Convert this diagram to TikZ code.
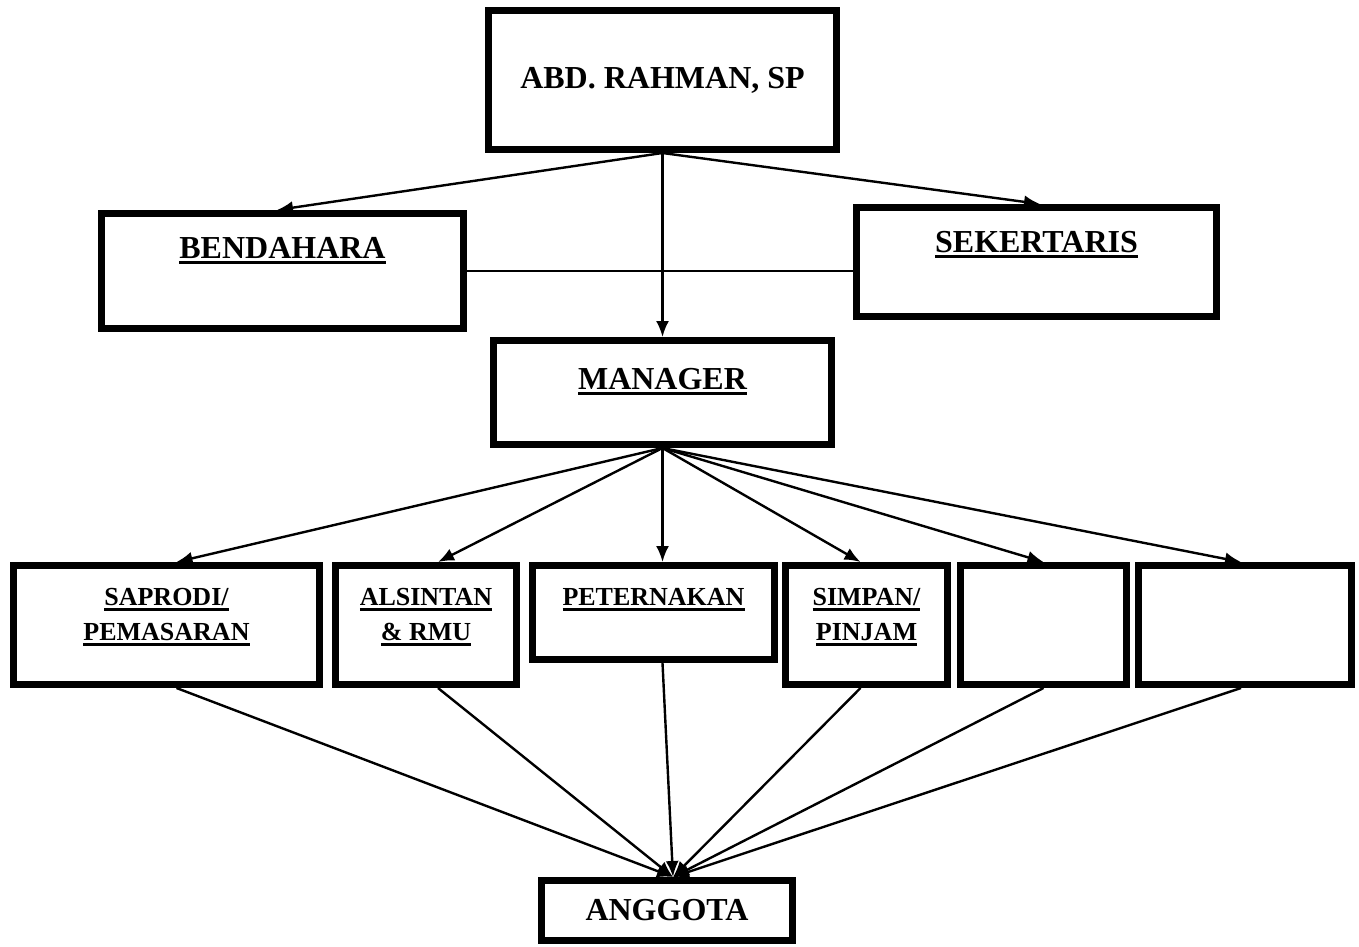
\documentclass[tikz,border=0pt]{standalone}
\usepackage{fontspec}
\setmainfont{Liberation Serif}
\usetikzlibrary{positioning,arrows.meta}
\newcommand{\ulbold}[1]{\leavevmode\setbox0\hbox{#1}\rlap{\rule[-3pt]{\wd0}{1.5pt}}\box0}

\begin{document}
\begin{tikzpicture}[
box/.style={draw, line width=3.5pt, inner sep=0pt, align=center, font=\fontsize{16}{19}\selectfont\bfseries},
unit/.style={box, text height=37.25pt, text depth=22.25pt, font=\fontsize{13}{17.5}\selectfont\bfseries},
arrow/.style={-{Latex[length=8pt,width=6.5pt]}, line width=1.2pt}
]
\useasboundingbox (0,0) rectangle (679.5pt,-473.5pt);
\node[box, minimum width=174pt, minimum height=69.5pt] (top) at (331.25pt,-40pt) {ABD. RAHMAN, SP};
\node[box, minimum width=181pt, text height=22.25pt, text depth=35.25pt, below left=28.5pt and 9pt of top] (bendahara) {\ulbold{BENDAHARA}};
\node[box, minimum width=180pt, text height=22.25pt, text depth=32.25pt, below right=25.5pt and 6.5pt of top] (sekertaris) {\ulbold{SEKERTARIS}};
\node[box, minimum width=169pt, text height=24.25pt, text depth=27.75pt, below=92pt of top] (manager) {\ulbold{MANAGER}};
\node[unit, minimum width=153pt, below left=57pt and 83.5pt of manager] (saprodi) {\ulbold{SAPRODI/}\\\ulbold{PEMASARAN}};
\node[unit, minimum width=90.5pt, right=4.5pt of saprodi] (alsintan) {\ulbold{ALSINTAN}\\\ulbold{\& RMU}};
\node[unit, minimum width=121pt, text height=19.75pt, text depth=27.25pt, right=4.5pt of alsintan.north east, anchor=north west] (peternakan) {\ulbold{PETERNAKAN}};
\node[unit, minimum width=81pt, right=2pt of peternakan.north east, anchor=north west] (simpan) {\ulbold{SIMPAN/}\\\ulbold{PINJAM}};
\node[unit, minimum width=83pt, right=3pt of simpan] (kosong1) {};
\node[unit, minimum width=106.5pt, right=2.5pt of kosong1] (kosong2) {};
\node[box, minimum width=125.5pt, minimum height=30pt, below=107pt of peternakan, xshift=6.75pt] (anggota) {ANGGOTA};
\draw[arrow] (top.south) -- ([xshift=-2.75pt]bendahara.north);
\draw[arrow] (top.south) -- ([xshift=1.75pt]sekertaris.north);
\draw[line width=1pt] (bendahara.east) -- (bendahara.east -| sekertaris.west);
\draw[arrow] (top.south) -- (manager.north);
\draw[arrow] (manager.south) -- ([xshift=5pt]saprodi.north);
\draw[arrow] (manager.south) -- ([xshift=6pt]alsintan.north);
\draw[arrow] (manager.south) -- (manager.south |- peternakan.north);
\draw[arrow] (manager.south) -- ([xshift=-3pt]simpan.north);
\draw[arrow] (manager.south) -- (kosong1.north);
\draw[arrow] (manager.south) -- ([xshift=-2pt]kosong2.north);
\draw[arrow] ([xshift=5pt]saprodi.south) -- ([xshift=3pt]anggota.north);
\draw[arrow] ([xshift=6pt]alsintan.south) -- ([xshift=3pt]anggota.north);
\draw[arrow] (manager.south |- peternakan.south) -- ([xshift=3pt]anggota.north);
\draw[arrow] ([xshift=-3pt]simpan.south) -- ([xshift=3pt]anggota.north);
\draw[arrow] (kosong1.south) -- ([xshift=3pt]anggota.north);
\draw[arrow] ([xshift=-2pt]kosong2.south) -- ([xshift=3pt]anggota.north);
\end{tikzpicture}
\end{document}
